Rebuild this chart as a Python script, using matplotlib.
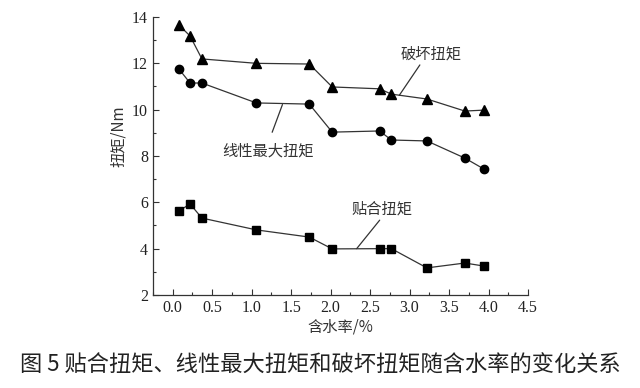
import matplotlib.pyplot as plt
from matplotlib.ticker import MultipleLocator

plt.rcParams['font.family'] = ['Noto Sans CJK SC', 'DejaVu Sans']

# 含水率 (%)
water = [0.08, 0.22, 0.37, 1.06, 1.73, 2.02, 2.62, 2.77, 3.22, 3.70, 3.94]
# 破坏扭矩
po_huai = [13.65, 13.18, 12.19, 12.0, 11.97, 10.98, 10.9, 10.67, 10.46, 9.94, 9.98]
# 线性最大扭矩
xian_xing = [11.75, 11.15, 11.15, 10.29, 10.24, 9.03, 9.08, 8.69, 8.65, 7.91, 7.44]
# 贴合扭矩
tie_he = [5.63, 5.93, 5.32, 4.81, 4.5, 3.99, 4.0, 4.0, 3.17, 3.38, 3.25]

xticks = [0.0, 0.5, 1.0, 1.5, 2.0, 2.5, 3.0, 3.5, 4.0, 4.5]
yticks = [2, 4, 6, 8, 10, 12, 14]

fig = plt.figure(figsize=(6.4, 3.88), dpi=100)
ax = fig.add_axes([0.239, 0.2397, 0.586, 0.7165])

line_kw = dict(color='#333333', linewidth=0.9, markeredgecolor='black',
               markerfacecolor='black')
ax.plot(water, po_huai, marker='^', markersize=6.5, **line_kw)
ax.plot(water, xian_xing, marker='o', markersize=6, **line_kw)
ax.plot(water, tie_he, marker='s', markersize=5.5, **line_kw)

ax.set_xlim(-0.25, 4.5)
ax.set_ylim(2, 14)
ax.set_xticks(xticks)
ax.set_yticks(yticks)
ax.xaxis.set_minor_locator(MultipleLocator(0.25))
ax.yaxis.set_minor_locator(MultipleLocator(1))
ax.set_xticklabels([f'{v:.1f}' for v in xticks], family='Liberation Serif', fontsize=11.5)
ax.set_yticklabels([str(v) for v in yticks], family='Liberation Serif', fontsize=11.5)
ax.tick_params(which='major', direction='in', length=4, width=0.8, colors='#333333',
               labelcolor='#222222')
ax.tick_params(which='minor', direction='in', length=2.5, width=0.8, colors='#333333')
for s in ['top', 'right']:
    ax.spines[s].set_visible(False)
for s in ['left', 'bottom']:
    ax.spines[s].set_color('#333333')
    ax.spines[s].set_linewidth(0.9)

ax.set_xlabel('含水率/%', fontsize=11, color='#333333', labelpad=2)
ax.set_ylabel('扭矩/Nm', fontsize=11, color='#333333', labelpad=6)
ax.yaxis.set_label_coords(-0.07, 0.57)

# 标注
ax.annotate('破坏扭矩', xy=(2.87, 10.62), xytext=(3.27, 12.05),
            fontsize=11, color='#333333', ha='center', va='bottom',
            arrowprops=dict(arrowstyle='-', color='#333333', lw=0.9,
                            shrinkA=0, shrinkB=0, relpos=(0.35, 0)))
ax.annotate('线性最大扭矩', xy=(1.39, 10.22), xytext=(1.21, 8.2),
            fontsize=11, color='#333333', ha='center', va='center',
            arrowprops=dict(arrowstyle='-', color='#333333', lw=0.9,
                            shrinkA=6, shrinkB=0, relpos=(0.5, 1)))
ax.annotate('贴合扭矩', xy=(2.33, 4.0), xytext=(2.65, 5.35),
            fontsize=11, color='#333333', ha='center', va='bottom',
            arrowprops=dict(arrowstyle='-', color='#333333', lw=0.9,
                            shrinkA=0, shrinkB=0, relpos=(0.5, 0)))

fig.text(0.5, 0.058, '图 5 贴合扭矩、线性最大扭矩和破坏扭矩随含水率的变化关系',
         ha='center', va='center', fontsize=16, color='#222222')

fig.savefig('out.png', dpi=100)
